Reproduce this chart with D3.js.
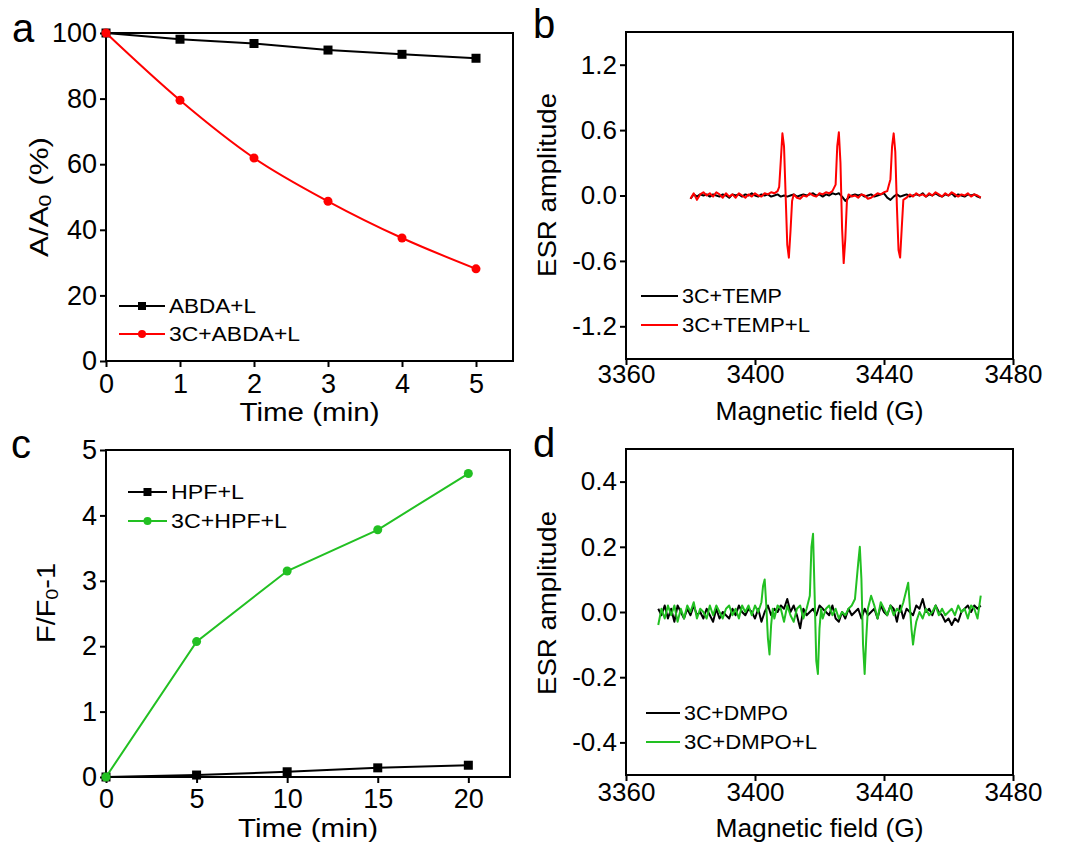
<!DOCTYPE html>
<html>
<head>
<meta charset="utf-8">
<script src="https://cdn.jsdelivr.net/npm/d3@7"></script>
<style>
  body { margin: 0; background: #fff; }
  text { font-family: "Liberation Sans", Arial, sans-serif; fill: #000; }
</style>
</head>
<body>
<div id="chart"></div>
<script>
// ---------- data ----------
const timeA = [0, 1, 2, 3, 4, 5];
const abdaL = [100, 98.1, 96.8, 94.8, 93.5, 92.3];
const c3AbdaL = [100, 79.5, 61.9, 48.7, 37.5, 28.1];

const timeC = [0, 5, 10, 15, 20];
const hpfL = [0, 0.03, 0.08, 0.14, 0.18];
const c3HpfL = [0, 2.07, 3.15, 3.78, 4.64];

// ESR spectra, [field (G), amplitude]
const temp = [[3380,-0.03],[3381,0.01],[3382,-0.01],[3383,0.01],[3384,0],[3385,0.01],[3386,-0.01],[3387,0.01],[3388,0],[3389,-0.01],
  [3390,0.01],[3391,0],[3392,-0.02],[3393,0.01],[3394,0],[3395,0.01],[3396,-0.01],[3397,0.01],[3398,0],[3399,0.02],
  [3400,0],[3401,-0.01],[3402,0.01],[3403,0],[3404,0.01],[3405,-0.01],[3406,0],[3407,0.01],[3408,-0.01],[3409,0],
  [3410,-0.01],[3411,0],[3412,0.01],[3413,-0.01],[3414,0],[3415,0.01],[3416,0],[3417,0.01],[3418,0.02],[3419,0],
  [3420,0.01],[3421,-0.01],[3422,0.01],[3423,0],[3424,0.02],[3425,0.01],[3426,0.02],[3427,-0.01],[3428,-0.05],[3429,-0.02],
  [3430,0],[3431,0.01],[3432,0],[3433,0.01],[3434,-0.01],[3435,0],[3436,0.01],[3437,-0.01],[3438,0],[3439,0.01],
  [3440,0.02],[3441,-0.02],[3442,-0.04],[3443,-0.01],[3444,0.01],[3445,-0.01],[3446,0],[3447,0.01],[3448,-0.01],[3449,0],
  [3450,0.01],[3451,0],[3452,0.02],[3453,-0.01],[3454,0.01],[3455,0],[3456,0.02],[3457,0],[3458,-0.01],[3459,0.01],
  [3460,0],[3461,0.02],[3462,-0.01],[3463,0.01],[3464,0],[3465,-0.01],[3466,0.01],[3467,0],[3468,0.01],[3469,-0.01],[3470,-0.02]];

const tempL = [[3380,-0.03],[3381,0.02],[3382,-0.04],[3383,0.01],[3384,0.03],[3385,0],[3386,0.02],[3387,-0.01],[3388,0.03],[3389,0.01],
  [3390,-0.02],[3391,0.02],[3392,-0.01],[3393,0.01],[3394,-0.02],[3395,0.02],[3396,0],[3397,-0.02],[3398,0.01],[3399,-0.01],
  [3400,0.02],[3401,0],[3402,-0.01],[3403,0.02],[3404,0.01],[3405,0.03],[3406,0.02],[3407,0.04],[3407.5,0.08],[3408,0.32],
  [3408.5,0.57],[3409,0.45],[3409.5,0],[3410,-0.45],[3410.5,-0.57],[3411,-0.33],[3411.5,-0.05],[3412,0.01],[3413,-0.02],[3414,-0.03],
  [3415,0],[3416,-0.01],[3417,0.02],[3418,0],[3419,-0.01],[3420,0.02],[3421,0.01],[3422,0.03],[3423,0.02],[3424,0.04],
  [3425,0.1],[3425.5,0.45],[3426,0.58],[3426.5,0.3],[3427,-0.3],[3427.5,-0.62],[3428,-0.4],[3428.5,-0.05],[3429,0.01],[3430,-0.01],
  [3431,0],[3432,-0.02],[3433,0.01],[3434,0],[3435,-0.03],[3436,-0.02],[3437,0],[3438,0.02],[3439,0.01],[3440,0.03],
  [3441,0.04],[3442,0.15],[3442.5,0.45],[3443,0.57],[3443.5,0.4],[3444,-0.1],[3444.5,-0.5],[3445,-0.57],[3445.5,-0.3],[3446,-0.04],
  [3447,-0.02],[3448,0.01],[3449,-0.01],[3450,0.02],[3451,0],[3452,0.01],[3453,-0.01],[3454,0.02],[3455,0],[3456,0.03],
  [3457,0.01],[3458,-0.01],[3459,0.02],[3460,0],[3461,0.03],[3462,0.01],[3463,-0.01],[3464,0.01],[3465,0],[3466,0.02],
  [3467,-0.01],[3468,0.01],[3469,0],[3470,-0.02]];

const dmpo = [[3370,0.01],[3371,-0.01],[3372,0.02],[3373,-0.02],[3374,0.01],[3375,-0.03],[3376,0.02],[3377,0],[3378,-0.02],[3379,0.01],
  [3380,-0.01],[3381,0.02],[3382,-0.01],[3383,0],[3384,-0.02],[3385,0.01],[3386,-0.01],[3387,-0.03],[3388,0.01],[3389,-0.02],
  [3390,0],[3391,-0.01],[3392,-0.02],[3393,0.01],[3394,-0.01],[3395,0.02],[3396,0],[3397,-0.01],[3398,0.01],[3399,0],
  [3400,-0.02],[3401,0.01],[3402,-0.03],[3403,0],[3404,0.02],[3405,-0.01],[3406,0.01],[3407,0],[3408,0.02],[3409,0.01],
  [3410,0.04],[3411,0],[3412,0.02],[3413,-0.01],[3414,-0.05],[3415,0.01],[3416,-0.01],[3417,0],[3418,0.01],[3419,-0.01],
  [3420,0.02],[3421,0.01],[3422,0],[3423,-0.01],[3424,0.02],[3425,-0.02],[3426,-0.03],[3427,0],[3428,-0.02],[3429,0.01],
  [3430,-0.01],[3431,0],[3432,0.01],[3433,-0.02],[3434,0.01],[3435,-0.01],[3436,0],[3437,0.01],[3438,-0.02],[3439,0.02],
  [3440,0],[3441,-0.01],[3442,0.02],[3443,0.01],[3444,-0.03],[3445,0.02],[3446,-0.02],[3447,0.01],[3448,0],[3449,-0.01],
  [3450,0.02],[3451,0.01],[3452,0.04],[3453,0],[3454,0.01],[3455,-0.01],[3456,0.02],[3457,0],[3458,-0.01],[3459,-0.03],
  [3460,-0.02],[3461,-0.04],[3462,-0.02],[3463,-0.03],[3464,0],[3465,0.01],[3466,0.02],[3467,0],[3468,0.02],[3469,0.01],[3470,0.02]];

const dmpoL = [[3370,-0.04],[3371,0.01],[3372,-0.02],[3373,0.02],[3374,-0.01],[3375,0.02],[3376,-0.03],[3377,0.01],[3378,-0.02],[3379,0.02],
  [3380,0],[3381,0.03],[3382,-0.02],[3383,0.01],[3384,0],[3385,-0.02],[3386,0.02],[3387,-0.01],[3388,0.02],[3389,0],
  [3390,-0.02],[3391,0.01],[3392,0.02],[3393,-0.01],[3394,0.01],[3395,-0.02],[3396,0.02],[3397,0],[3398,0.02],[3399,-0.01],
  [3400,0.02],[3401,0],[3402,0.03],[3402.5,0.08],[3403,0.1],[3403.5,0.02],[3404,-0.08],[3404.5,-0.13],[3405,-0.04],[3405.5,0.01],
  [3406,-0.02],[3407,0.02],[3408,0.01],[3409,-0.03],[3410,0.02],[3411,-0.01],[3412,-0.03],[3413,0.01],[3414,0.02],[3415,-0.02],
  [3416,0.01],[3417,0.05],[3417.5,0.2],[3418,0.24],[3418.5,0.05],[3419,-0.15],[3419.5,-0.19],[3420,-0.05],[3420.5,0.01],[3421,-0.02],
  [3422,0.01],[3423,0.02],[3424,-0.01],[3425,0.01],[3426,-0.02],[3427,0],[3428,-0.01],[3429,0.01],[3430,0.02],[3431,0.04],
  [3432,0.15],[3432.5,0.2],[3433,0.1],[3433.5,-0.1],[3434,-0.19],[3434.5,-0.08],[3435,0.01],[3436,0.05],[3437,0.02],[3438,-0.02],
  [3439,0.03],[3440,0.01],[3441,-0.01],[3442,0.02],[3443,-0.01],[3444,0.01],[3445,0],[3446,0.03],[3447,0.07],[3447.5,0.09],
  [3448,0.02],[3448.5,-0.05],[3449,-0.1],[3449.5,-0.06],[3450,-0.03],[3451,0],[3452,-0.02],[3453,0.01],[3454,-0.01],[3455,0],
  [3456,0.02],[3457,-0.01],[3458,0.01],[3459,-0.01],[3460,0],[3461,0.01],[3462,-0.01],[3463,0.02],[3464,0],[3465,0.01],
  [3466,-0.02],[3467,0.02],[3468,0.01],[3469,-0.02],[3470,0.05]];

const ticksA = [0, 20, 40, 60, 80, 100];
const ticksB = [-1.2, -0.6, 0, 0.6, 1.2];
const ticksC = [0, 1, 2, 3, 4, 5];
const ticksD = [-0.4, -0.2, 0, 0.2, 0.4];
const fieldTicks = [3360, 3400, 3440, 3480];

const RED = "#ff0000", GREEN = "#22c022", BLACK = "#000";

// ---------- svg ----------
const svg = d3.select("#chart").append("svg")
  .attr("width", 1070).attr("height", 847);

// the original lettering is wider than Arial, so stretch to the measured length
function fit(t, len) {
  if (len) t.attr("textLength", len).attr("lengthAdjust", "spacingAndGlyphs");
  return t;
}

function panel(p) {
  const x = d3.scaleLinear().domain(p.xDomain).range([p.left, p.right]);
  const y = d3.scaleLinear().domain(p.yDomain).range([p.bottom, p.top]);
  const g = svg.append("g");

  const xa = g.append("g").attr("transform", `translate(0,${p.bottom})`)
    .call(d3.axisBottom(x).tickValues(p.xTicks).tickSize(6).tickSizeOuter(0)
      .tickPadding(p.xPad).tickFormat(p.xFmt));
  const ya = g.append("g").attr("transform", `translate(${p.left},0)`)
    .call(d3.axisLeft(y).tickValues(p.yTicks).tickSize(6).tickSizeOuter(0)
      .tickPadding(3).tickFormat(p.yFmt));
  [xa, ya].forEach(a => {
    a.select(".domain").remove();
    a.selectAll(".tick line").attr("stroke", "#000").attr("stroke-width", 2);
    a.selectAll(".tick text").attr("font-size", p.tickFont)
      .attr("font-family", "'Liberation Sans', Arial, sans-serif");
  });

  g.append("rect")
    .attr("x", p.left).attr("y", p.top)
    .attr("width", p.right - p.left).attr("height", p.bottom - p.top)
    .attr("fill", "none").attr("stroke", "#000").attr("stroke-width", 2);

  // panel letter
  g.append("text").attr("x", p.letterX).attr("y", p.letterY)
    .attr("font-size", 40).text(p.letter);

  // x title
  fit(g.append("text").attr("x", (p.left + p.right) / 2).attr("y", p.xTitleY)
    .attr("text-anchor", "middle").attr("font-size", 25).text(p.xTitle), p.xTitleLen);

  // y title
  const yt = g.append("text")
    .attr("transform", `translate(${p.yTitleX},${p.yTitleMid}) rotate(-90)`)
    .attr("text-anchor", "middle").attr("font-size", 25);
  p.yTitle(yt);
  fit(yt, p.yTitleLen);

  return { x, y, g };
}

function legend(g, x0, y0, rows) {
  rows.forEach((r, i) => {
    const yy = y0 + i * r.gap;
    g.append("line").attr("x1", x0).attr("x2", x0 + r.len)
      .attr("y1", yy).attr("y2", yy)
      .attr("stroke", r.color).attr("stroke-width", 2);
    if (r.marker === "square") {
      g.append("rect").attr("x", x0 + r.len / 2 - 4).attr("y", yy - 4)
        .attr("width", 8).attr("height", 8).attr("fill", r.color);
    } else if (r.marker === "circle") {
      g.append("circle").attr("cx", x0 + r.len / 2).attr("cy", yy)
        .attr("r", 4).attr("fill", r.color);
    }
    fit(g.append("text").attr("x", x0 + r.len + 4).attr("y", yy + 7)
      .attr("font-size", 20).text(r.label), r.textLen);
  });
}

function series(pn, xs, ys, color, marker, curve) {
  const pts = xs.map((d, i) => [d, ys[i]]);
  pn.g.append("path").datum(pts)
    .attr("fill", "none").attr("stroke", color).attr("stroke-width", 2)
    .attr("d", d3.line().x(d => pn.x(d[0])).y(d => pn.y(d[1])).curve(curve));
  if (marker === "square") {
    pn.g.selectAll(null).data(pts).enter().append("rect")
      .attr("x", d => pn.x(d[0]) - 4.5).attr("y", d => pn.y(d[1]) - 4.5)
      .attr("width", 9).attr("height", 9).attr("fill", color);
  } else {
    pn.g.selectAll(null).data(pts).enter().append("circle")
      .attr("cx", d => pn.x(d[0])).attr("cy", d => pn.y(d[1]))
      .attr("r", 4.5).attr("fill", color);
  }
}

function spectrum(pn, pts, color) {
  pn.g.append("path").datum(pts)
    .attr("fill", "none").attr("stroke", color).attr("stroke-width", 2)
    .attr("stroke-linejoin", "round")
    .attr("d", d3.line().x(d => pn.x(d[0])).y(d => pn.y(d[1])));
}

// ---------- panel a ----------
const pa = panel({
  left: 106, right: 513, top: 33, bottom: 361,
  xDomain: [0, 5.5], yDomain: [0, 100],
  xTicks: timeA, yTicks: ticksA, xPad: 7, tickFont: 27,
  xFmt: d3.format("d"), yFmt: d3.format("d"),
  letter: "a", letterX: 12, letterY: 42,
  xTitle: "Time (min)", xTitleY: 421, xTitleLen: 140,
  yTitleX: 48, yTitleMid: 197, yTitleLen: 120,
  yTitle: t => { t.append("tspan").text("A/A"); t.append("tspan").attr("font-size", 17).attr("dy", 3).text("0");
    t.append("tspan").attr("dy", -3).text(" (%)"); }
});
series(pa, timeA, abdaL, BLACK, "square", d3.curveLinear);
series(pa, timeA, c3AbdaL, RED, "circle", d3.curveMonotoneX);
legend(pa.g, 119, 306, [
  { label: "ABDA+L", color: BLACK, marker: "square", len: 46, gap: 28, textLen: 87 },
  { label: "3C+ABDA+L", color: RED, marker: "circle", len: 46, gap: 28, textLen: 131 }
]);

// ---------- panel b ----------
const pb = panel({
  left: 626, right: 1013, top: 32, bottom: 359,
  xDomain: [3360, 3480], yDomain: [-1.5, 1.5],
  xTicks: fieldTicks, yTicks: ticksB, xPad: 0, tickFont: 26,
  xFmt: d3.format("d"), yFmt: d => d.toFixed(1),
  letter: "b", letterX: 533, letterY: 38,
  xTitle: "Magnetic field (G)", xTitleY: 420, xTitleLen: 208,
  yTitleX: 556, yTitleMid: 185, yTitleLen: 184,
  yTitle: t => t.text("ESR amplitude")
});
spectrum(pb, temp, BLACK);
spectrum(pb, tempL, RED);
legend(pb.g, 641, 296, [
  { label: "3C+TEMP", color: BLACK, len: 37, gap: 29, textLen: 100 },
  { label: "3C+TEMP+L", color: RED, len: 37, gap: 29, textLen: 128 }
]);

// ---------- panel c ----------
const pc = panel({
  left: 106, right: 510, top: 450, bottom: 777,
  xDomain: [0, 22.3], yDomain: [0, 5],
  xTicks: timeC, yTicks: ticksC, xPad: 6, tickFont: 27,
  xFmt: d3.format("d"), yFmt: d3.format("d"),
  letter: "c", letterX: 11, letterY: 458,
  xTitle: "Time (min)", xTitleY: 837, xTitleLen: 140,
  yTitleX: 55, yTitleMid: 603, yTitleLen: 80,
  yTitle: t => { t.append("tspan").text("F/F"); t.append("tspan").attr("font-size", 17).attr("dy", 3).text("0");
    t.append("tspan").attr("dy", -3).text("-1"); }
});
series(pc, timeC, hpfL, BLACK, "square", d3.curveLinear);
series(pc, timeC, c3HpfL, GREEN, "circle", d3.curveLinear);
legend(pc.g, 128, 492, [
  { label: "HPF+L", color: BLACK, marker: "square", len: 39, gap: 29, textLen: 73 },
  { label: "3C+HPF+L", color: GREEN, marker: "circle", len: 39, gap: 29, textLen: 116 }
]);

// ---------- panel d ----------
const pd = panel({
  left: 626, right: 1013, top: 449, bottom: 775,
  xDomain: [3360, 3480], yDomain: [-0.5, 0.5],
  xTicks: fieldTicks, yTicks: ticksD, xPad: 2, tickFont: 26,
  xFmt: d3.format("d"), yFmt: d => d.toFixed(1),
  letter: "d", letterX: 533, letterY: 457,
  xTitle: "Magnetic field (G)", xTitleY: 837, xTitleLen: 208,
  yTitleX: 556, yTitleMid: 603, yTitleLen: 184,
  yTitle: t => t.text("ESR amplitude")
});
spectrum(pd, dmpo, BLACK);
spectrum(pd, dmpoL, GREEN);
legend(pd.g, 646, 713, [
  { label: "3C+DMPO", color: BLACK, len: 34, gap: 29, textLen: 104 },
  { label: "3C+DMPO+L", color: GREEN, len: 34, gap: 29, textLen: 133 }
]);
</script>
</body>
</html>
